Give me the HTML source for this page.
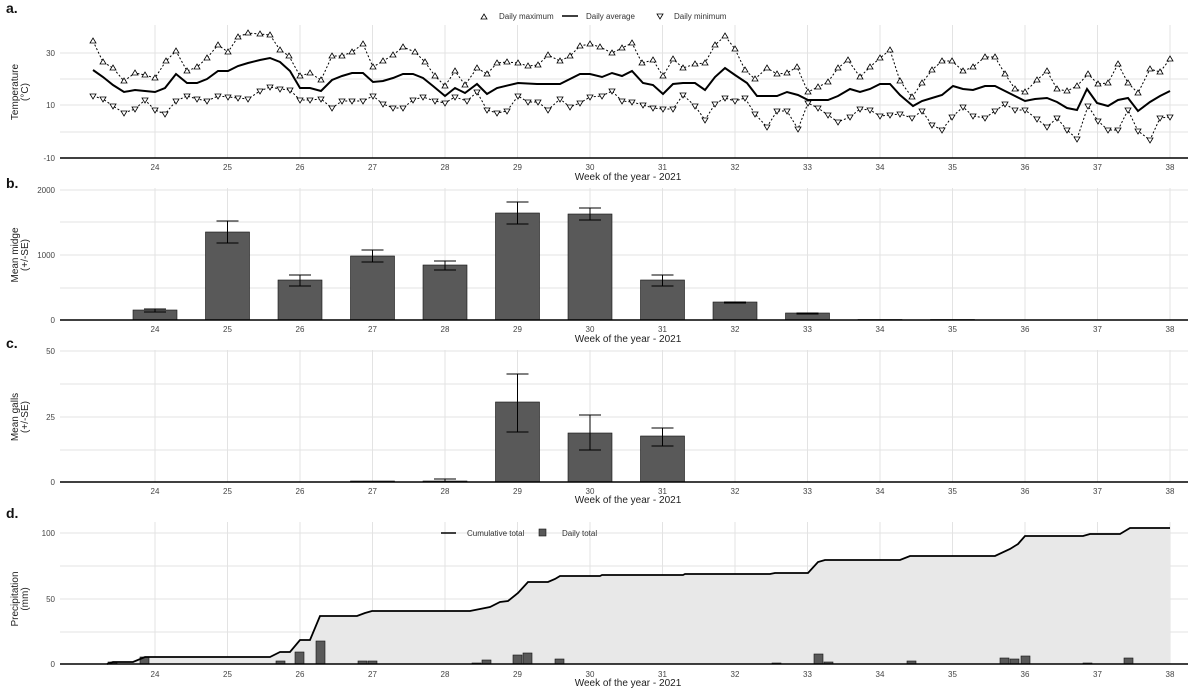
<!DOCTYPE html>
<html><head><meta charset="utf-8"><style>
html,body{margin:0;padding:0;background:#fff;}
svg{display:block;font-family:"Liberation Sans",sans-serif;}
</style></head><body>
<svg id="s" width="1200" height="696" viewBox="0 0 1200 696" xmlns="http://www.w3.org/2000/svg"></svg>
<script>
var s=document.getElementById('s');var h='';
function X(w){return 155+(w-24)*72.5;}
var L=60,R=1188;
function grid(top,bot,ys){
  for(var w=24;w<=38;w++){h+='<line x1="'+X(w)+'" y1="'+top+'" x2="'+X(w)+'" y2="'+bot+'" stroke="#e3e3e3" stroke-width="1"/>';}
  ys.forEach(function(y){h+='<line x1="'+L+'" y1="'+y+'" x2="'+R+'" y2="'+y+'" stroke="#e3e3e3" stroke-width="1"/>';});
}
function axis(bot,ly,ty){
  h+='<line x1="'+L+'" y1="'+bot+'" x2="'+R+'" y2="'+bot+'" stroke="#000" stroke-width="1.5"/>';
  for(var w=24;w<=38;w++){h+='<text x="'+X(w)+'" y="'+ly+'" font-size="8" fill="#444" text-anchor="middle">'+w+'</text>';}
  h+='<text x="628" y="'+ty+'" font-size="10" fill="#222" text-anchor="middle">Week of the year - 2021</text>';
}
function ylab(pairs){pairs.forEach(function(p){h+='<text x="55" y="'+(p[1]+3)+'" font-size="8" fill="#444" text-anchor="end">'+p[0]+'</text>';});}
function ytitle(cy,l1,l2){h+='<text transform="translate(18,'+cy+') rotate(-90)" font-size="10" fill="#222" text-anchor="middle">'+l1+'</text><text transform="translate(28,'+cy+') rotate(-90)" font-size="10" fill="#222" text-anchor="middle">'+l2+'</text>';}
function plab(t,y){h+='<text x="6" y="'+y+'" font-size="14" font-weight="bold" fill="#111">'+t+'</text>';}
// Panel a
plab('a.',13);
grid(25,158,[53,79,105,132]);
axis(158,170,180);
ylab([['30',53],['10',105],['-10',158]]);
ytitle(92,'Temperature','(°C)');
var mx=[[93,41],[103,62],[113,68],[124,81],[135,73],[145,75],[155,78],[166,61],[176,51],[187,71],[197,67],[207,58],[218,45],[228,52],[238,37],[248,33],[260,34],[270,35],[280,50],[289,56],[300,76],[310,73],[321,80],[332,56],[342,56],[352,52],[363,44],[373,67],[383,61],[393,55],[403,47],[415,52],[425,62],[435,76],[445,86],[455,71],[465,85],[477,68],[487,74],[497,63],[507,62],[518,63],[528,66],[538,65],[548,55],[560,61],[570,56],[580,46],[590,44],[600,47],[612,53],[622,48],[632,43],[642,63],[653,60],[663,76],[673,59],[683,68],[695,64],[705,63],[715,45],[725,36],[735,49],[745,70],[755,79],[767,68],[777,74],[787,73],[797,67],[808,92],[818,87],[828,82],[838,68],[848,60],[860,77],[870,67],[880,58],[890,50],[900,81],[912,97],[922,83],[932,70],[942,61],[952,61],[963,71],[973,67],[985,57],[995,57],[1005,74],[1015,89],[1025,92],[1037,80],[1047,71],[1057,89],[1067,91],[1077,86],[1088,74],[1098,84],[1108,83],[1118,64],[1128,83],[1138,93],[1150,69],[1160,72],[1170,59]];
var av=[[93,70],[103,77],[113,85],[124,92],[135,90],[145,91],[155,92],[165,88],[176,74],[187,83],[197,83],[207,79],[218,71],[228,71],[238,66],[248,63],[260,60],[270,58],[280,62],[290,71],[300,88],[310,88],[321,91],[332,80],[342,76],[352,73],[363,73],[373,82],[383,81],[393,78],[403,74],[413,74],[423,78],[433,86],[445,96],[455,88],[465,93],[477,84],[487,94],[497,88],[518,83],[537,84],[560,84],[580,74],[590,74],[602,77],[612,73],[622,76],[632,71],[643,83],[653,85],[663,94],[673,84],[683,83],[695,83],[705,90],[715,77],[725,68],[735,75],[747,83],[757,96],[767,96],[777,96],[787,92],[798,95],[808,100],[828,100],[838,96],[850,89],[860,92],[870,89],[880,84],[890,84],[900,95],[913,106],[922,101],[932,98],[942,95],[953,86],[963,89],[973,90],[985,86],[995,86],[1005,91],[1015,96],[1025,101],[1035,99],[1047,98],[1057,102],[1067,108],[1077,110],[1087,89],[1097,103],[1108,106],[1118,100],[1128,98],[1138,111],[1150,102],[1160,96],[1170,91]];
var mn=[[93,96],[103,99],[113,106],[124,113],[135,109],[145,100],[155,110],[165,114],[176,101],[187,96],[197,99],[207,101],[218,96],[228,97],[238,98],[248,99],[260,91],[270,87],[280,89],[290,90],[300,100],[310,100],[321,99],[332,108],[342,101],[352,101],[363,101],[373,96],[383,104],[393,108],[403,108],[413,100],[423,97],[435,101],[445,103],[455,97],[467,101],[477,92],[487,110],[497,113],[507,111],[518,96],[528,102],[538,102],[548,110],[560,99],[570,107],[580,103],[590,97],[602,96],[612,91],[622,101],[632,102],[643,105],[653,108],[663,109],[673,109],[683,95],[695,106],[705,120],[715,104],[725,98],[735,101],[745,98],[755,114],[767,127],[777,111],[787,111],[798,129],[808,103],[818,108],[828,115],[838,122],[850,117],[860,109],[870,110],[880,116],[890,115],[900,114],[912,118],[922,111],[932,125],[942,130],[952,117],[963,107],[973,116],[985,118],[995,111],[1005,104],[1015,110],[1025,110],[1037,119],[1047,127],[1057,118],[1067,130],[1077,139],[1088,106],[1098,121],[1108,130],[1118,130],[1128,110],[1138,131],[1150,140],[1160,118],[1170,117]];
function pl(a){return a.map(function(p){return p[0]+','+p[1];}).join(' ');}
h+='<polyline points="'+pl(mx)+'" fill="none" stroke="#000" stroke-width="1" stroke-dasharray="2,2"/>';
h+='<polyline points="'+pl(mn)+'" fill="none" stroke="#000" stroke-width="1" stroke-dasharray="2,2"/>';
h+='<polyline points="'+pl(av)+'" fill="none" stroke="#000" stroke-width="2"/>';
mx.forEach(function(p){h+='<path d="M'+p[0]+','+(p[1]-3)+' L'+(p[0]+3)+','+(p[1]+2)+' L'+(p[0]-3)+','+(p[1]+2)+'Z" fill="#fff" stroke="#000" stroke-width="0.8"/>';});
mn.forEach(function(p){h+='<path d="M'+p[0]+','+(p[1]+3)+' L'+(p[0]+3)+','+(p[1]-2)+' L'+(p[0]-3)+','+(p[1]-2)+'Z" fill="#fff" stroke="#000" stroke-width="0.8"/>';});
// legend a
h+='<path d="M484,14 L487,19 L481,19Z" fill="#fff" stroke="#000" stroke-width="0.8"/><text x="499" y="19" font-size="8" fill="#333">Daily maximum</text>';
h+='<line x1="562" y1="16" x2="578" y2="16" stroke="#000" stroke-width="1.5"/><text x="586" y="19" font-size="8" fill="#333">Daily average</text>';
h+='<path d="M660,19 L663,14 L657,14Z" fill="#fff" stroke="#000" stroke-width="0.8"/><text x="674" y="19" font-size="8" fill="#333">Daily minimum</text>';
// Panel b
plab('b.',188);
grid(188,320,[190,222,255,288]);
ylab([['2000',190],['1000',255],['0',320]]);
ytitle(255,'Mean midge','(+/-SE)');
var b=[[24,310,309,312],[25,232,221,243],[26,280,275,286],[27,256,250,262],[28,265,261,270],[29,213,202,224],[30,214,208,220],[31,280,275,286],[32,302,302,303],[33,313,313,314],[34,319.5,0,0],[35,319.5,0,0]];
b.forEach(function(d){var x=X(d[0]);h+='<rect x="'+(x-22)+'" y="'+d[1]+'" width="44" height="'+(320-d[1])+'" fill="#595959" stroke="#111" stroke-width="0.6"/>';if(d[2]){h+='<path d="M'+(x-11)+','+d[2]+'H'+(x+11)+'M'+x+','+d[2]+'V'+d[3]+'M'+(x-11)+','+d[3]+'H'+(x+11)+'" stroke="#000" stroke-width="1" fill="none"/>';}});
axis(320,332,342);
// Panel c
plab('c.',348);
grid(350,482,[351,384,417,450]);
ylab([['50',351],['25',417],['0',482]]);
ytitle(417,'Mean galls','(+/-SE)');
var c=[[27,481,0,0],[28,481,479,482],[29,402,374,432],[30,433,415,450],[31,436,428,446]];
c.forEach(function(d){var x=X(d[0]);h+='<rect x="'+(x-22)+'" y="'+d[1]+'" width="44" height="'+(482-d[1])+'" fill="#595959" stroke="#111" stroke-width="0.6"/>';if(d[2]){h+='<path d="M'+(x-11)+','+d[2]+'H'+(x+11)+'M'+x+','+d[2]+'V'+d[3]+'M'+(x-11)+','+d[3]+'H'+(x+11)+'" stroke="#000" stroke-width="1" fill="none"/>';}});
axis(482,494,503);
// Panel d
plab('d.',518);
grid(522,664,[533,566,599,632]);
ylab([['100',533],['50',599],['0',664]]);
ytitle(599,'Precipitation','(mm)');
var cu=[[107,664],[113,662],[133,662],[145,657],[270,657],[280,652],[290,652],[300,640],[310,640],[320,616],[357,616],[365,613],[372,611],[470,611],[480,609],[490,607],[500,602],[508,601],[518,593],[528,582],[548,582],[555,579],[560,576],[600,576],[602,575],[683,575],[685,574],[770,574],[775,573],[808,573],[818,562],[825,560],[900,560],[910,556],[995,556],[1010,549],[1018,544],[1025,536],[1083,536],[1090,534],[1120,534],[1130,528],[1170,528]];
h+='<polygon points="'+pl(cu)+' 1170,664 107,664" fill="#e8e8e8"/>';
var bars=[[108,662],[140,657],[276,661],[295,652],[316,641],[358,661],[368,661],[472,663],[482,660],[513,655],[523,653],[555,659],[772,663],[814,654],[824,662],[907,661],[1000,658],[1010,659],[1021,656],[1083,663],[1124,658]];
bars.forEach(function(p){h+='<rect x="'+p[0]+'" y="'+p[1]+'" width="9" height="'+(664-p[1])+'" fill="#595959" stroke="#111" stroke-width="0.6"/>';});
h+='<polyline points="'+pl(cu)+'" fill="none" stroke="#000" stroke-width="1.8"/>';
axis(664,677,686);
h+='<line x1="441" y1="533" x2="456" y2="533" stroke="#000" stroke-width="1.5"/><text x="467" y="536" font-size="8" fill="#333">Cumulative total</text>';
h+='<rect x="539" y="529" width="7" height="7" fill="#595959" stroke="#111" stroke-width="0.6"/><text x="562" y="536" font-size="8" fill="#333">Daily total</text>';
s.innerHTML=h;
</script>
</body></html>
